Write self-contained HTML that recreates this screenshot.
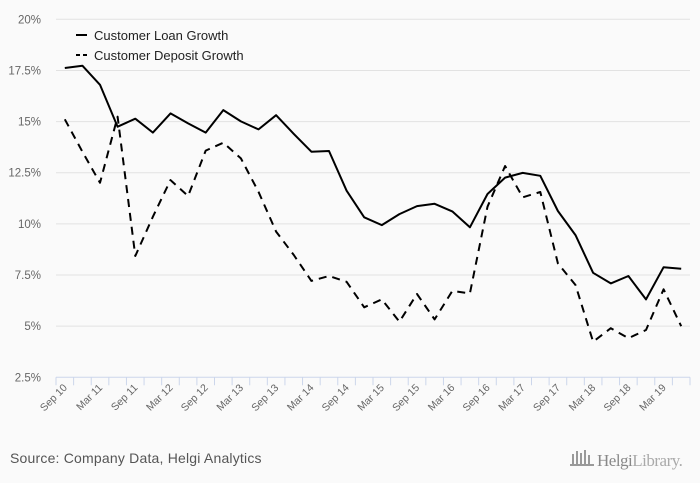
<!DOCTYPE html>
<html><head><meta charset="utf-8"><style>
html,body{margin:0;padding:0;background:#fafafa;}
svg{display:block;font-family:"Liberation Sans",sans-serif;}
</style></head><body>
<svg id="chart" width="700" height="483">
<rect x="0" y="0" width="700" height="483" fill="#fafafa"/>
<g id="grid"></g>
<g id="yaxis"></g>
<g id="xaxis"></g>
<g id="series"></g>
<g>
 <g>
  <line x1="76" y1="35" x2="87" y2="35" stroke="#000" stroke-width="2"/>
  <text x="94" y="40" font-size="13" fill="#222">Customer Loan Growth</text>
 </g>
 <g>
  <line x1="76" y1="55" x2="87" y2="55" stroke="#000" stroke-width="2" stroke-dasharray="4,3"/>
  <text x="94" y="60" font-size="13" fill="#222">Customer Deposit Growth</text>
 </g>
</g>
<text x="10" y="463" font-size="14" fill="#555" letter-spacing="0.2">Source: Company Data, Helgi Analytics</text>
<g>
 <g fill="#999"><rect x="572" y="454" width="2" height="10"/><rect x="576" y="451" width="2" height="13"/><rect x="580" y="453" width="2" height="11"/><rect x="584" y="450" width="2" height="14"/><rect x="588" y="455" width="2" height="9"/><rect x="570" y="464" width="24" height="2"/></g>
 <text x="597" y="466" font-size="17" fill="#888" font-family="Liberation Serif,serif" letter-spacing="-0.5">Helgi<tspan fill="#aaa">Library.</tspan></text>
</g>
</svg>
<script>
const categories=["Sep 10","Dec 10","Mar 11","Jun 11","Sep 11","Dec 11","Mar 12","Jun 12","Sep 12","Dec 12","Mar 13","Jun 13","Sep 13","Dec 13","Mar 14","Jun 14","Sep 14","Dec 14","Mar 15","Jun 15","Sep 15","Dec 15","Mar 16","Jun 16","Sep 16","Dec 16","Mar 17","Jun 17","Sep 17","Dec 17","Mar 18","Jun 18","Sep 18","Dec 18","Mar 19","Jun 19"];
const loanGrowth=[17.62,17.73,16.8,14.75,15.14,14.46,15.4,14.91,14.46,15.56,15.01,14.62,15.31,14.4,13.53,13.56,11.62,10.32,9.94,10.48,10.87,10.98,10.61,9.83,11.46,12.26,12.49,12.35,10.63,9.45,7.61,7.09,7.45,6.31,7.88,7.81];
const depositGrowth=[15.11,13.53,12.01,15.24,8.43,10.35,12.14,11.36,13.58,13.97,13.2,11.57,9.62,8.48,7.21,7.45,7.17,5.92,6.31,5.22,6.57,5.33,6.72,6.6,10.84,12.83,11.3,11.56,8.07,7.01,4.24,4.9,4.41,4.81,6.8,5.0];
const yTicks=[2.5,5,7.5,10,12.5,15,17.5,20];
const yTickLabels=["2.5%","5%","7.5%","10%","12.5%","15%","17.5%","20%"];
const NS="http://www.w3.org/2000/svg";
const plotLeft=56,plotRight=690,plotTop=19.3,plotBottom=377.3,yMin=2.5,yMax=20;
const band=(plotRight-plotLeft)/categories.length;
function xPos(i){return plotLeft+band*(i+0.5);}
function yPos(v){return plotBottom-(v-yMin)/(yMax-yMin)*(plotBottom-plotTop);}
function mk(tag,attrs,parent){const e=document.createElementNS(NS,tag);for(const k in attrs)e.setAttribute(k,attrs[k]);parent.appendChild(e);return e;}
const grid=document.getElementById('grid'),ya=document.getElementById('yaxis'),xa=document.getElementById('xaxis'),ser=document.getElementById('series');
yTicks.forEach((t,i)=>{
 const y=yPos(t);
 if(i>0){const g=mk('line',{x1:plotLeft,x2:plotRight,y1:y,y2:y,stroke:'#e2e2e2','stroke-width':1},grid);
 
 }
 const tx=mk('text',{x:41,y:y+4,'text-anchor':'end','font-size':11.5,fill:'#666'},ya);
 tx.textContent=yTickLabels[i];
 
 
});
const axl=mk('line',{x1:plotLeft,x2:plotRight,y1:plotBottom,y2:plotBottom,stroke:'#ccd6eb','stroke-width':1},xa);


for(let i=0;i<=categories.length;i++){
 const x=plotLeft+band*i;
 const tk=mk('line',{x1:x,x2:x,y1:plotBottom,y2:plotBottom+8,stroke:'#ccd6eb','stroke-width':1},xa);
 
 
}
categories.forEach((c,i)=>{
 if(i%2)return;
 const x=xPos(i)+3,y=plotBottom+11;
 const tx=mk('text',{x:x,y:y,'text-anchor':'end','font-size':10.5,fill:'#666',transform:`rotate(-45 ${x} ${y})`},xa);
 tx.textContent=c;
 
 
});
function linePath(vals){return vals.map((v,i)=>(i?'L':'M')+xPos(i).toFixed(1)+' '+yPos(v).toFixed(1)).join(' ');}
const pd=mk('path',{d:linePath(depositGrowth),fill:'none',stroke:'#000','stroke-width':2,'stroke-dasharray':'8,6','stroke-linejoin':'round'},ser);


const pl=mk('path',{d:linePath(loanGrowth),fill:'none',stroke:'#000','stroke-width':2,'stroke-linejoin':'round'},ser);


</script>
</body></html>
